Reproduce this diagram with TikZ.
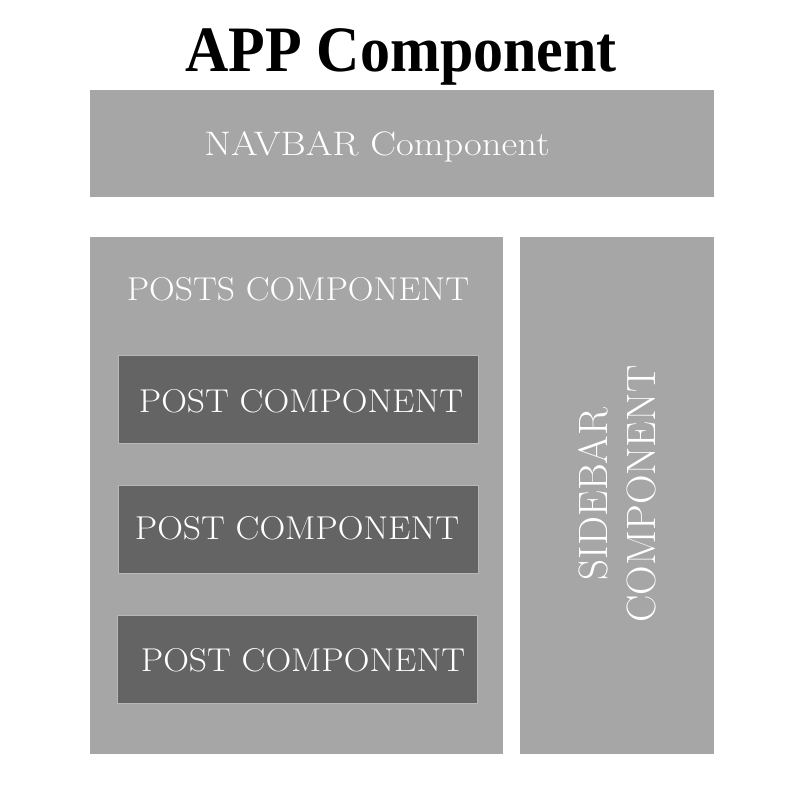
\documentclass[tikz,border=0pt]{standalone}
\usepackage{fontspec}
\setmainfont{Latin Modern Roman}
\newfontfamily\titlefont{Liberation Serif}
\usepackage{tikz}
\definecolor{boxgray}{HTML}{A6A6A6}
\definecolor{postgray}{HTML}{646464}
\tikzset{
  panel/.style={fill=boxgray,draw=none,inner sep=0pt,anchor=north west},
  postbox/.style={fill=postgray,draw=boxgray!80!white,line width=0.8pt,inner sep=0pt,anchor=north west,minimum width=360pt,minimum height=88pt},
  label/.style={text=white,anchor=base,inner sep=0pt,xscale=1.08,font=\fontsize{33}{40}\selectfont}
}

\begin{document}
\begin{tikzpicture}[line cap=round,line join=round,x=1pt,y=-1pt]
\useasboundingbox (0,0) rectangle (800,800);
\node[panel,minimum width=624pt,minimum height=107pt] (navbar) at (90,90) {};
\node[panel,minimum width=413pt,minimum height=517pt] (posts) at (90,237) {};
\node[panel,minimum width=194pt,minimum height=517pt] (sidebar) at (520,237) {};
\node[postbox] (post1) at (118,355) {};
\node[postbox] (post2) at (118,485) {};
\node[postbox] (post3) at (117,615) {};
\node[anchor=base,inner sep=0pt,yscale=1.08,font=\titlefont\bfseries\fontsize{60}{70}\selectfont] (app) at (401,71) {APP Component};
\node[label,xscale=1.05,font=\fontsize{34}{40}\selectfont] (navtext) at (377,155) {NAVBAR Component};
\node[label] (poststext) at (298,300) {POSTS COMPONENT};
\node[label] (post1text) at (301,412) {POST COMPONENT};
\node[label] (post2text) at (297,539) {POST COMPONENT};
\node[label] (post3text) at (303,671) {POST COMPONENT};
\node[text=white,rotate=90,align=center,inner sep=0pt,font=\fontsize{41}{48}\selectfont] (sidetext) at (617,494) {SIDEBAR\\COMPONENT};
\end{tikzpicture}
\end{document}
